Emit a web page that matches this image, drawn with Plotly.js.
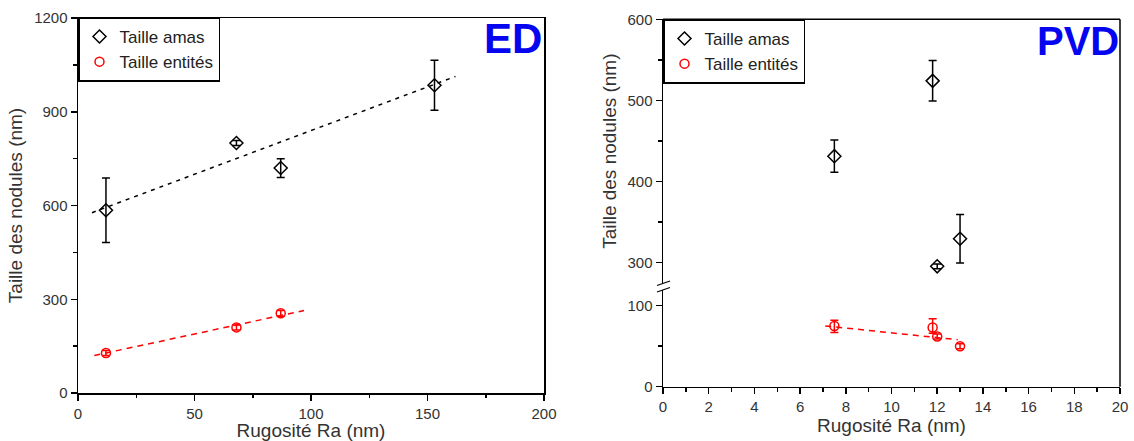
<!DOCTYPE html>
<html>
<head>
<meta charset="utf-8">
<script src="https://cdn.plot.ly/plotly-3.0.1.min.js"></script>
<style>html,body{margin:0;padding:0;background:#fff;}#chart{width:1134px;height:441px;}</style>
</head>
<body>
<div id="chart"></div>
<script>
// ---- ED panel data ----
const edAmasX = [12, 68, 87, 153];
const edAmasY = [585, 800, 720, 985];
const edAmasErr = [103, 8, 30, 80];
const edEntX = [12, 68, 87];
const edEntY = [128, 210, 255];
const edEntErr = [8, 8, 9];
const edFitAmasX = [6, 162];
const edFitAmasY = [577, 1013];
const edFitEntX = [7, 97];
const edFitEntY = [120, 264];

// ---- PVD panel data ----
const pvdAmasX = [7.5, 11.8, 12.0, 13.0];
const pvdAmasY = [431, 524, 295, 329];
const pvdAmasErr = [20, 25, 3, 30];
const pvdEntX = [7.5, 11.8, 12.0, 13.0];
const pvdEntY = [75, 73, 62, 50];
const pvdEntErrPlus = [7, 11, 3, 3];
const pvdEntErrMinus = [8, 7, 3, 3];
const pvdFitEntX = [7.1, 12.9];
const pvdFitEntY = [75, 58];

// ---- labels ----
const seriesNames = ['Taille amas', 'Taille entités'];
const xTitle = 'Rugosité Ra (nm)';
const yTitle = 'Taille des nodules (nm)';
const panelLabels = ['ED', 'PVD'];

const FONT = 'Liberation Sans, Arial, sans-serif';
const W = 1134, H = 441;
const px = v => v / W;
const py = v => 1 - v / H;

function errBar(arr, color, minus) {
  const e = {type: 'data', array: arr, visible: true, color: color, thickness: 1.5, width: 4};
  if (minus) { e.symmetric = false; e.arrayminus = minus; }
  return e;
}

const traces = [
  {x: edAmasX, y: edAmasY, xaxis: 'x', yaxis: 'y', mode: 'markers', name: seriesNames[0], legend: 'legend',
   marker: {symbol: 'diamond-open', size: 10, color: 'black', line: {width: 1.5, color: 'black'}},
   error_y: errBar(edAmasErr, 'black')},
  {x: edEntX, y: edEntY, xaxis: 'x', yaxis: 'y', mode: 'markers', name: seriesNames[1], legend: 'legend',
   marker: {symbol: 'circle-open', size: 9, color: 'red', line: {width: 1.5, color: 'red'}},
   error_y: errBar(edEntErr, 'red')},
  {x: edFitAmasX, y: edFitAmasY, xaxis: 'x', yaxis: 'y', mode: 'lines', showlegend: false,
   line: {color: 'black', width: 1.5, dash: '4px,5px'}},
  {x: edFitEntX, y: edFitEntY, xaxis: 'x', yaxis: 'y', mode: 'lines', showlegend: false,
   line: {color: 'red', width: 1.5, dash: '6px,5px'}},

  {x: pvdAmasX, y: pvdAmasY, xaxis: 'x2', yaxis: 'y2', mode: 'markers', name: seriesNames[0], legend: 'legend2',
   marker: {symbol: 'diamond-open', size: 10, color: 'black', line: {width: 1.5, color: 'black'}},
   error_y: errBar(pvdAmasErr, 'black')},
  {x: pvdEntX, y: pvdEntY, xaxis: 'x2', yaxis: 'y3', mode: 'markers', name: seriesNames[1], legend: 'legend2',
   marker: {symbol: 'circle-open', size: 9, color: 'red', line: {width: 1.5, color: 'red'}},
   error_y: errBar(pvdEntErrPlus, 'red', pvdEntErrMinus)},
  {x: pvdFitEntX, y: pvdFitEntY, xaxis: 'x2', yaxis: 'y3', mode: 'lines', showlegend: false,
   line: {color: 'red', width: 1.5, dash: '6px,5px'}}
];

const tickFont = {family: FONT, size: 15, color: '#333'};
const titleFont = {family: FONT, size: 19, color: '#333'};
function axisBase(extra) {
  return Object.assign({
    showline: true, linecolor: 'black', linewidth: 1.5,
    ticks: 'outside', ticklen: 6, tickwidth: 1.5, tickcolor: 'black',
    showgrid: false, zeroline: false, automargin: false, fixedrange: true,
    tickfont: tickFont
  }, extra);
}
function minor(d) { return {ticks: 'outside', ticklen: 3.5, tickwidth: 1.5, tickcolor: 'black', dtick: d, showgrid: false}; }

const x2L = px(663), x2R = px(1120);
const rTop = py(19.3), rBot = py(386.7);

const layout = {
  width: W, height: H,
  margin: {l: 0, r: 0, t: 0, b: 0},
  paper_bgcolor: 'white', plot_bgcolor: 'white',
  font: {family: FONT},
  xaxis: axisBase({domain: [px(78), px(544)], range: [0, 200], anchor: 'y', mirror: true, dtick: 50, minor: minor(25),
    title: {text: xTitle, font: titleFont, standoff: 2}}),
  yaxis: axisBase({domain: [py(393), py(18)], range: [0, 1200], anchor: 'x', mirror: true, dtick: 300, minor: minor(150),
    title: {text: yTitle, font: titleFont, standoff: 6}}),
  xaxis2: axisBase({domain: [x2L, x2R], range: [0, 20], anchor: 'y3', dtick: 2, minor: minor(1),
    title: {text: xTitle, font: titleFont, standoff: 2}}),
  yaxis2: axisBase({domain: [py(283), rTop], range: [274.4, 600], anchor: 'x2', tickvals: [300, 400, 500, 600], minor: minor(50),
    title: {text: yTitle, font: titleFont, standoff: 6}}),
  yaxis3: axisBase({domain: [rBot, py(289.5)], range: [0, 120], anchor: 'x2', tickvals: [0, 100], minor: minor(50)}),
  legend: {x: px(78), y: py(17.5), xanchor: 'left', yanchor: 'top', bordercolor: 'black', borderwidth: 1.5,
    bgcolor: 'white', font: {family: FONT, size: 17, color: '#222'}, tracegroupgap: 0},
  legend2: {x: x2L, y: py(19.5), xanchor: 'left', yanchor: 'top', bordercolor: 'black', borderwidth: 1.5,
    bgcolor: 'white', font: {family: FONT, size: 17, color: '#222'}, tracegroupgap: 0},
  annotations: [
    {text: '<b>' + panelLabels[0] + '</b>', xref: 'paper', yref: 'paper', x: px(544), y: py(39), xanchor: 'right', yanchor: 'middle',
     showarrow: false, font: {family: FONT, size: 42, color: '#0505f0'}},
    {text: '<b>' + panelLabels[1] + '</b>', xref: 'paper', yref: 'paper', x: px(1121), y: py(41), xanchor: 'right', yanchor: 'middle',
     showarrow: false, font: {family: FONT, size: 40, color: '#0505f0'}}
  ],
  shapes: [
    {type: 'line', xref: 'paper', yref: 'paper', x0: x2L, x1: x2R, y0: rTop, y1: rTop, line: {color: 'black', width: 1.5}},
    {type: 'line', xref: 'paper', yref: 'paper', x0: x2R, x1: x2R, y0: rTop, y1: rBot, line: {color: 'black', width: 1.5}},
    {type: 'line', xref: 'paper', yref: 'paper', x0: px(657), x1: px(670), y0: py(285.5), y1: py(281), line: {color: 'black', width: 1.2}},
    {type: 'line', xref: 'paper', yref: 'paper', x0: px(657), x1: px(670), y0: py(292), y1: py(287.5), line: {color: 'black', width: 1.2}}
  ],
  showlegend: true
};

Plotly.newPlot('chart', traces, layout, {displayModeBar: false, staticPlot: true});
</script>
</body>
</html>
